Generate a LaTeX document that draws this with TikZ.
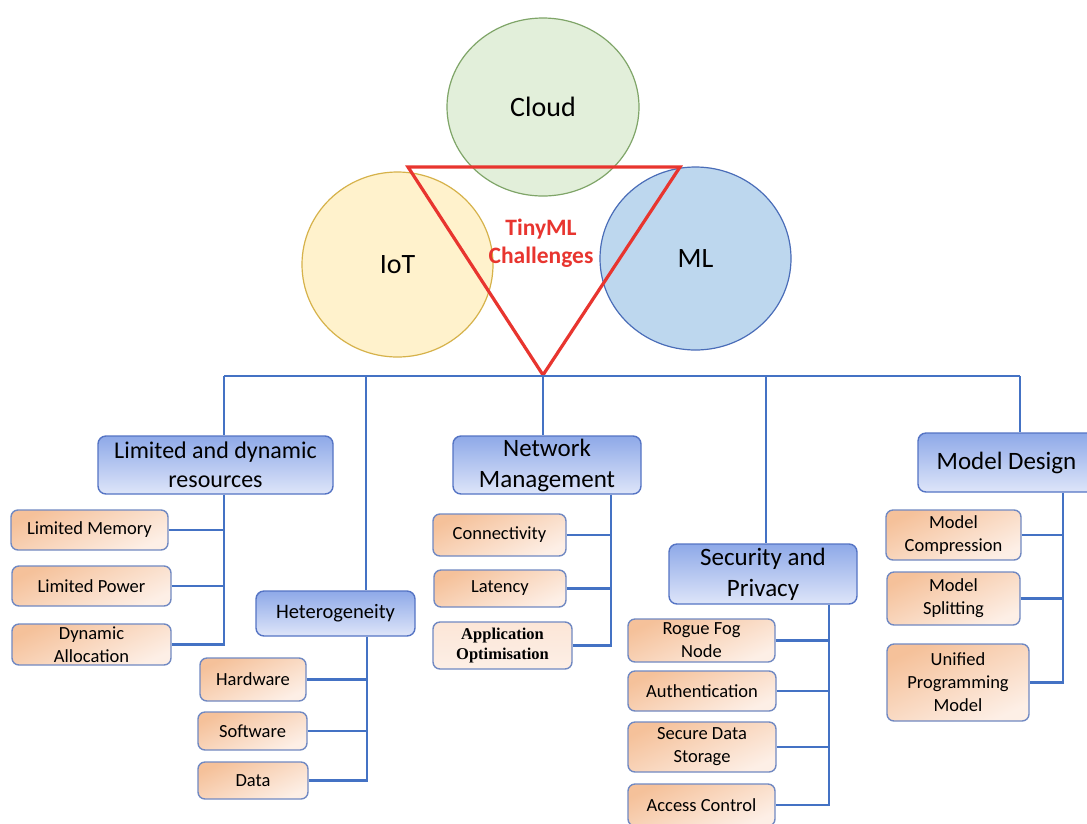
\documentclass[tikz,border=0pt]{standalone}
\usepackage{fontspec}
\setmainfont{Carlito}
\newfontfamily\timesfont{Liberation Serif}
\usetikzlibrary{shapes.geometric}
\definecolor{conncol}{HTML}{4472C4}
\definecolor{cattop}{HTML}{8EA9E8}
\definecolor{catbot}{HTML}{DEE5F9}
\definecolor{catborder}{HTML}{5574C4}
\definecolor{leaftop}{HTML}{F5C19A}
\definecolor{leafbot}{HTML}{FDEFE6}
\definecolor{leafborder}{HTML}{7189C2}
\definecolor{cloudf}{HTML}{E2EFDA}
\definecolor{cloudb}{HTML}{7FA568}
\definecolor{iotf}{HTML}{FFF2CC}
\definecolor{iotb}{HTML}{D6B24A}
\definecolor{mlf}{HTML}{BDD7EE}
\definecolor{mlb}{HTML}{4A6DB8}
\definecolor{trired}{HTML}{E8352F}
\tikzset{
  conn/.style={draw=conncol, line width=2.6pt},
  catbox/.style={draw=catborder, line width=1.4pt, rounded corners=8pt,
    top color=cattop, bottom color=catbot, align=center, inner sep=0pt,
    font=\fontsize{24}{29}\selectfont},
  leafbox/.style={draw=leafborder, line width=1.4pt, rounded corners=7pt,
    top color=leaftop, bottom color=leafbot, shading angle=25, align=center, inner sep=0pt,
    font=\fontsize{18.5}{23}\selectfont},
  bubble/.style={ellipse, line width=1.2pt, inner sep=0pt, font=\fontsize{28}{32}\selectfont}
}
\begin{document}
\begin{tikzpicture}[x=1pt,y=-1pt]
\useasboundingbox (0,0) rectangle (1087,823);
\clip (0,0) rectangle (1087,823);
\fill[white] (0,0) rectangle (1087,823);
% circles
\node[bubble, draw=cloudb, fill=cloudf, minimum width=192, minimum height=178] (cloud) at (543,107) {Cloud};
\node[bubble, draw=iotb, fill=iotf, minimum width=191, minimum height=185] (iot) at (397.5,264.5) {IoT};
\node[bubble, draw=mlb, fill=mlf, minimum width=191, minimum height=183] (ml) at (695.5,258.5) {ML};
% triangle
\coordinate (ta) at (408,167);
\coordinate (tb) at (680,167);
\coordinate (tc) at (543,375);
\draw[trired, line width=3.2pt, line join=miter] (ta) -- (tb) -- (tc) -- cycle;
\node[text=trired, align=center, font=\bfseries\fontsize{23.5}{28}\selectfont] (tiny) at (541,243) {TinyML\\Challenges};
% trunk coordinates
\coordinate (t1) at (224,376);
\coordinate (t2) at (366,376);
\coordinate (t3) at (543,376);
\coordinate (t4) at (766,376);
\coordinate (t5) at (1020,376);
\coordinate (bx1) at (224,0);
\coordinate (bx2) at (367,0);
\coordinate (bx3) at (611,0);
\coordinate (bx4) at (829,0);
\coordinate (bx5) at (1063,0);
% category boxes
\node[catbox, minimum width=235, minimum height=58] (lim) at (215.5,465) {Limited and dynamic\\resources};
\node[catbox, minimum width=159, minimum height=45, font=\fontsize{20.5}{24}\selectfont] (het) at (335.5,613.5) {Heterogeneity};
\node[catbox, minimum width=188, minimum height=58, font=\fontsize{25}{31}\selectfont] (net) at (547,465) {Network\\Management};
\node[catbox, minimum width=188, minimum height=60, font=\fontsize{25}{31}\selectfont] (sec) at (763,574) {Security and\\Privacy};
\node[catbox, minimum width=177, minimum height=59, font=\fontsize{25}{31}\selectfont] (mod) at (1006.5,462.5) {Model Design};
% leaf boxes
\node[leafbox, minimum width=157, minimum height=40] (mem) at (89.5,530) {Limited Memory};
\node[leafbox, minimum width=159, minimum height=40] (pow) at (91.5,586) {Limited Power};
\node[leafbox, minimum width=159, minimum height=41] (dyn) at (91.5,644.5) {Dynamic\\Allocation};
\node[leafbox, minimum width=106, minimum height=43] (hw) at (253,679.5) {Hardware};
\node[leafbox, minimum width=109, minimum height=38] (sw) at (252.5,731) {Software};
\node[leafbox, minimum width=110, minimum height=37] (dat) at (253,780.5) {Data};
\node[leafbox, minimum width=133, minimum height=42] (con) at (499.5,535) {Connectivity};
\node[leafbox, minimum width=132, minimum height=37] (lat) at (500,588.5) {Latency};
\node[leafbox, minimum width=139, minimum height=47, top color=leafbot!80!leaftop, bottom color=leafbot,
      font=\timesfont\bfseries\fontsize{16.5}{20}\selectfont] (app) at (502.5,645.5) {Application\\Optimisation};
\node[leafbox, minimum width=147, minimum height=43] (rog) at (701.5,640.5) {Rogue Fog\\Node};
\node[leafbox, minimum width=148, minimum height=40] (aut) at (702,691) {Authentication};
\node[leafbox, minimum width=148, minimum height=50] (sds) at (702,747) {Secure Data\\Storage};
\node[leafbox, minimum width=147, minimum height=42] (acc) at (701.5,805) {Access Control};
\node[leafbox, minimum width=135, minimum height=50] (mc) at (953.5,535) {Model\\Compression};
\node[leafbox, minimum width=133, minimum height=53] (ms) at (953.5,598.5) {Model\\Splitting};
\node[leafbox, minimum width=142, minimum height=77] (upm) at (958,682.5) {Unified\\Programming\\Model};
% connectors
\draw[conn] (t1) -- (t5);
\draw[conn] (t1) -- (t1 |- lim.north);
\draw[conn] (t2) -- (t2 |- het.north);
\draw[conn] (tc) -- (t3 |- net.north);
\draw[conn] (t4) -- (t4 |- sec.north);
\draw[conn] (t5) -- (t5 |- mod.north);
% limited
\draw[conn] (bx1 |- lim.south) |- (dyn.east);
\draw[conn] (mem.east) -- (mem.east -| bx1);
\draw[conn] (pow.east) -- (pow.east -| bx1);
% heterogeneity
\draw[conn] (bx2 |- het.south) |- (dat.east);
\draw[conn] (hw.east) -- (hw.east -| bx2);
\draw[conn] (sw.east) -- (sw.east -| bx2);
% network
\draw[conn] (bx3 |- net.south) |- (app.east);
\draw[conn] (con.east) -- (con.east -| bx3);
\draw[conn] (lat.east) -- (lat.east -| bx3);
% security
\draw[conn] (bx4 |- sec.south) |- (acc.east);
\draw[conn] (rog.east) -- (rog.east -| bx4);
\draw[conn] (aut.east) -- (aut.east -| bx4);
\draw[conn] (sds.east) -- (sds.east -| bx4);
% model design
\draw[conn] (bx5 |- mod.south) |- (upm.east);
\draw[conn] (mc.east) -- (mc.east -| bx5);
\draw[conn] (ms.east) -- (ms.east -| bx5);
\end{tikzpicture}
\end{document}
